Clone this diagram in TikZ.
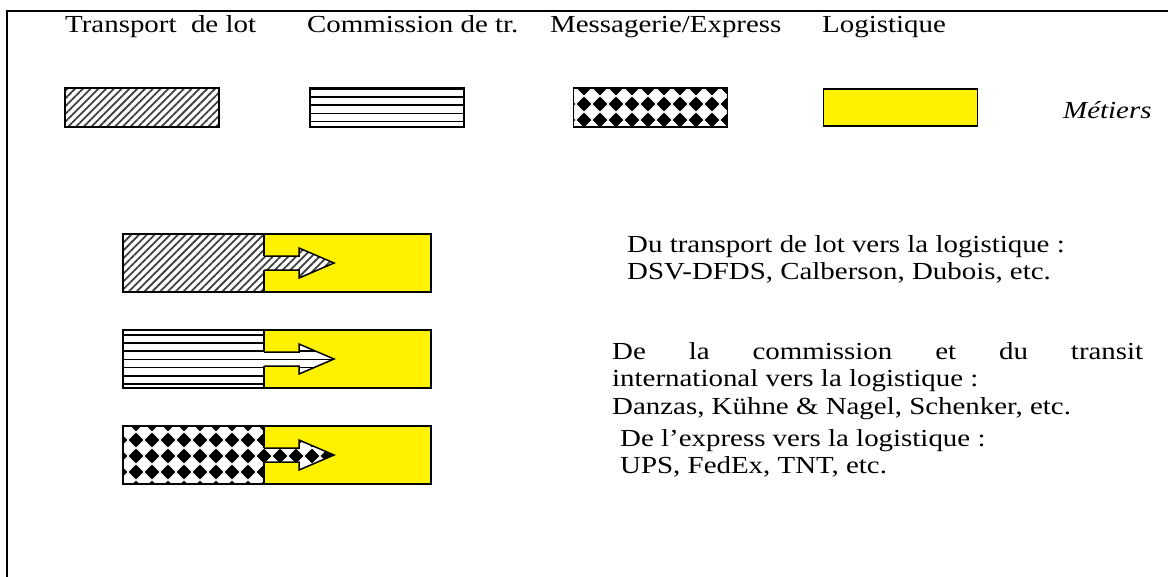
\documentclass[tikz,border=0pt]{standalone}
\usepackage{fontspec}
\setmainfont{Liberation Serif}[FakeStretch=1.18]
\usetikzlibrary{patterns,patterns.meta}

% grille de losanges noirs (messagerie)
\pgfdeclarepatternformonly{losanges}{\pgfqpoint{-1pt}{-1pt}}{\pgfqpoint{17pt}{17pt}}{\pgfqpoint{16pt}{16pt}}{%
  \pgfpathmoveto{\pgfqpoint{8pt}{0.6pt}}%
  \pgfpathlineto{\pgfqpoint{15.4pt}{8pt}}%
  \pgfpathlineto{\pgfqpoint{8pt}{15.4pt}}%
  \pgfpathlineto{\pgfqpoint{0.6pt}{8pt}}%
  \pgfpathclose
  \pgfusepath{fill}}
% traits horizontaux (commission)
\pgfdeclarepatternformonly{traits}{\pgfqpoint{-1pt}{0pt}}{\pgfqpoint{11pt}{8.2pt}}{\pgfqpoint{10pt}{8.2pt}}{%
  \pgfsetlinewidth{1.6pt}%
  \pgfpathmoveto{\pgfqpoint{-1pt}{3.4pt}}%
  \pgfpathlineto{\pgfqpoint{11pt}{3.4pt}}%
  \pgfusepath{stroke}}

% #1 = centre y de la barre, #2 = motif du metier de depart
\newcommand{\metierbar}[2]{%
  \draw[line width=1.5, #2] (123,#1-29) rectangle (264,#1+29);
  \draw[line width=1.5, fill=yellow] (264,#1-29) rectangle (431,#1+29);
  \path[preaction={fill=white}, #2] (262,#1-7) -- (299,#1-7) -- (299,#1-15) -- (334,#1)
    -- (299,#1+15) -- (299,#1+7) -- (262,#1+7) -- cycle;
  \draw[line width=1.5] (264,#1-7) -- (299,#1-7) -- (299,#1-15) -- (334,#1)
    -- (299,#1+15) -- (299,#1+7) -- (264,#1+7);
}

\begin{document}
\begin{tikzpicture}[x=1pt, y=-1pt,
    every node/.style={inner sep=0pt, font=\fontsize{24.5}{27.5}\selectfont},
    legbox/.style={draw, line width=1.5, minimum width=154pt, minimum height=39pt},
    lotpat/.style={pattern={Lines[angle=45,distance=5.5pt,line width=1.8pt]}, pattern color=black!75},
    compat/.style={pattern=traits},
    exppat/.style={pattern=losanges}]
  \useasboundingbox (0,0) rectangle (1168,576);
  \draw[line width=2] (7,590) -- (7,11) -- (1180,11);

  % legende des metiers
  \node[anchor=base west] (lotlbl) at (65,32) {Transport\ \ de lot};
  \node[anchor=base west] (comlbl) at (307,32) {Commission de tr.};
  \node[anchor=base west] (explbl) at (550,32) {Messagerie/Express};
  \node[anchor=base west] (loglbl) at (822,32) {Logistique};
  \node[legbox, lotpat] (lotbox) at (142,107.5) {};
  \node[legbox, compat] (combox) at (387,107.5) {};
  \node[legbox, exppat] (expbox) at (650.5,107.5) {};
  \node[legbox, fill=yellow, minimum height=37pt] (logbox) at (900.5,107.5) {};
  \node[anchor=base west, font=\fontsize{24.5}{27.5}\selectfont\itshape] (metiers) at (1063,118) {Métiers};

  % vers la logistique
  \metierbar{263}{lotpat}
  \metierbar{359}{compat}
  \metierbar{455}{exppat}

  \node[anchor=base west] (lottxt) at (627,252)
    {\parbox[t]{500pt}{Du transport de lot vers la logistique :\\
      DSV-DFDS, Calberson, Dubois, etc.}};
  \node[anchor=base west] (comtxt) at (612,359)
    {\parbox[t]{531pt}{De la commission et du transit\linebreak
      international vers la logistique :\newline
      Danzas, Kühne \& Nagel, Schenker, etc.}};
  \node[anchor=base west] (exptxt) at (620,446)
    {\parbox[t]{500pt}{De l’express vers la logistique :\\
      UPS, FedEx, TNT, etc.}};
\end{tikzpicture}
\end{document}
